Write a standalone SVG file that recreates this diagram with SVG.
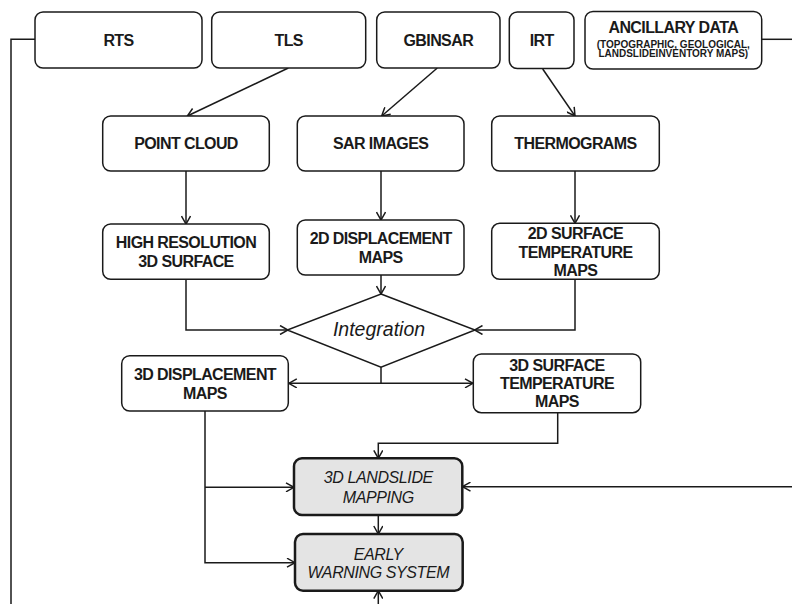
<svg xmlns="http://www.w3.org/2000/svg" width="792" height="604" viewBox="0 0 792 604">
  <style>
    .box { fill: #ffffff; stroke: #1a1a1a; stroke-width: 1.5; }
    .out { fill: #e4e4e4; stroke: #1a1a1a; stroke-width: 2.5; }
    .lbl { font-family: "Liberation Sans", Arial, sans-serif; font-weight: bold; font-size: 16px; letter-spacing: -0.6px; fill: #1a1a1a; text-anchor: middle; }
    .sub { font-family: "Liberation Sans", Arial, sans-serif; font-weight: bold; font-size: 10px; fill: #1a1a1a; text-anchor: middle; }
    .it { font-family: "Liberation Sans", Arial, sans-serif; font-style: italic; font-size: 16px; letter-spacing: -0.4px; fill: #1a1a1a; text-anchor: middle; }
    .conn path, .conn line { fill: none; stroke: #1a1a1a; stroke-width: 1.5; }
  </style>
  <defs>
    <marker id="arr" viewBox="0 0 10 10" refX="9" refY="5" markerWidth="10" markerHeight="10" markerUnits="userSpaceOnUse" orient="auto">
      <path d="M1,0.5 L9,5 L1,9.5" fill="none" stroke="#1a1a1a" stroke-width="1.5"/>
    </marker>
  </defs>
  <rect width="792" height="604" fill="#ffffff"/>

  <!-- connectors -->
  <g class="conn" id="connectors">
    <line x1="288.3" y1="68" x2="187.3" y2="116" marker-end="url(#arr)"/>
    <line x1="437.3" y1="68" x2="381.7" y2="116" marker-end="url(#arr)"/>
    <line x1="542.7" y1="69" x2="575" y2="116" marker-end="url(#arr)"/>
    <line x1="186" y1="171" x2="186" y2="224" marker-end="url(#arr)"/>
    <line x1="381" y1="171" x2="381" y2="220" marker-end="url(#arr)"/>
    <line x1="575" y1="171" x2="575" y2="223.3" marker-end="url(#arr)"/>
    <path d="M186,279.3 V330 H288" marker-end="url(#arr)"/>
    <path d="M575,279.3 V330 H474.5" marker-end="url(#arr)"/>
    <line x1="381" y1="275" x2="381" y2="294" marker-end="url(#arr)"/>
    <line x1="381" y1="367" x2="381" y2="383.3"/>
    <path d="M381,383.3 H288.8" marker-end="url(#arr)"/>
    <path d="M381,383.3 H473" marker-end="url(#arr)"/>
    <path d="M557.7,412.7 V443.3 H378.3 V458.3" marker-end="url(#arr)"/>
    <path d="M205,411 V562.7 H295" marker-end="url(#arr)"/>
    <path d="M205,487.3 H294" marker-end="url(#arr)"/>
    <path d="M35,39.3 H11 V604"/>
    <path d="M761.7,39.3 H792"/>
    <path d="M792,486.7 H462.5" marker-end="url(#arr)"/>
    <line x1="378.3" y1="515" x2="378.3" y2="534" marker-end="url(#arr)"/>
    <line x1="378.3" y1="604" x2="378.3" y2="590.7" marker-end="url(#arr)"/>
  </g>

  <!-- source instruments -->
  <g id="rts">
    <rect class="box" x="35" y="12" width="167" height="56" rx="8"/>
    <text class="lbl" x="118.5" y="46">RTS</text>
  </g>
  <g id="tls">
    <rect class="box" x="211.7" y="12" width="154" height="56" rx="8"/>
    <text class="lbl" x="288.7" y="46">TLS</text>
  </g>
  <g id="gbinsar">
    <rect class="box" x="376.7" y="12" width="123.3" height="56" rx="8"/>
    <text class="lbl" x="438.3" y="46">GBINSAR</text>
  </g>
  <g id="irt">
    <rect class="box" x="509.3" y="12" width="64.7" height="56.5" rx="8"/>
    <text class="lbl" x="541.7" y="46">IRT</text>
  </g>
  <g id="ancillary">
    <rect class="box" x="585" y="11.5" width="176.7" height="57.5" rx="8"/>
    <text class="lbl" x="673.3" y="33.3">ANCILLARY DATA</text>
    <text class="sub" x="673.3" y="47.8">(TOPOGRAPHIC, GEOLOGICAL,</text>
    <text class="sub" x="673.3" y="57.3">LANDSLIDEINVENTORY MAPS)</text>
  </g>

  <!-- raw products -->
  <g id="point-cloud">
    <rect class="box" x="102.7" y="116" width="166.6" height="55" rx="8"/>
    <text class="lbl" x="186" y="149">POINT CLOUD</text>
  </g>
  <g id="sar-images">
    <rect class="box" x="297.3" y="116" width="166.7" height="55" rx="8"/>
    <text class="lbl" x="380.7" y="149">SAR IMAGES</text>
  </g>
  <g id="thermograms">
    <rect class="box" x="491.7" y="116" width="167.6" height="55" rx="8"/>
    <text class="lbl" x="575.5" y="149">THERMOGRAMS</text>
  </g>

  <!-- processed products -->
  <g id="high-res">
    <rect class="box" x="102.7" y="224" width="166.6" height="55.3" rx="8"/>
    <text class="lbl" x="186" y="248.3">HIGH RESOLUTION</text>
    <text class="lbl" x="186" y="267.3">3D SURFACE</text>
  </g>
  <g id="disp-2d">
    <rect class="box" x="297.3" y="220" width="166.7" height="55" rx="8"/>
    <text class="lbl" x="380.7" y="244.3">2D DISPLACEMENT</text>
    <text class="lbl" x="380.7" y="262.7">MAPS</text>
  </g>
  <g id="temp-2d">
    <rect class="box" x="491.7" y="223.3" width="167.6" height="56" rx="8"/>
    <text class="lbl" x="575.5" y="239.3">2D SURFACE</text>
    <text class="lbl" x="575.5" y="258.3">TEMPERATURE</text>
    <text class="lbl" x="575.5" y="276">MAPS</text>
  </g>

  <!-- integration step -->
  <g id="integration">
    <polygon class="box" points="381,294 475,330 381,367.3 287.3,330"/>
    <text x="379" y="336" font-family="Liberation Sans, Arial, sans-serif" font-style="italic" font-size="19.5" fill="#1a1a1a" text-anchor="middle">Integration</text>
  </g>

  <!-- 3D outputs -->
  <g id="disp-3d">
    <rect class="box" x="121.7" y="355.7" width="166.6" height="55.3" rx="8"/>
    <text class="lbl" x="205" y="380">3D DISPLACEMENT</text>
    <text class="lbl" x="205" y="398.7">MAPS</text>
  </g>
  <g id="temp-3d">
    <rect class="box" x="473.3" y="354" width="167.4" height="58.7" rx="8"/>
    <text class="lbl" x="557" y="370.7">3D SURFACE</text>
    <text class="lbl" x="557" y="389.3">TEMPERATURE</text>
    <text class="lbl" x="557" y="406.7">MAPS</text>
  </g>

  <!-- final outputs -->
  <g id="landslide-mapping">
    <rect class="out" x="294" y="458.3" width="168.3" height="56.7" rx="8"/>
    <text class="it" x="378.3" y="483">3D LANDSLIDE</text>
    <text class="it" x="378.3" y="502.7">MAPPING</text>
  </g>
  <g id="early-warning">
    <rect class="out" x="295" y="534" width="167.7" height="56.7" rx="8"/>
    <text class="it" x="378.3" y="560">EARLY</text>
    <text class="it" x="378.3" y="578">WARNING SYSTEM</text>
  </g>
</svg>
